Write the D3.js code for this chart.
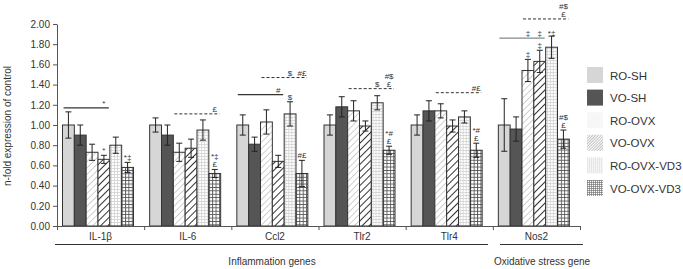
<!DOCTYPE html>
<html>
<head>
<meta charset="utf-8">
<title>n-fold expression</title>
<script src="https://d3js.org/d3.v7.min.js"></script>
<style>
  body { margin: 0; background: #fff; }
  text { font-family: "Liberation Sans", Arial, sans-serif; fill: #333; }
</style>
</head>
<body>
<div id="chart"></div>
<script>
// genes along the x axis
var genes = ["IL-1\u03b2", "IL-6", "Ccl2", "Tlr2", "Tlr4", "Nos2"];
var series = ["RO-SH", "VO-SH", "RO-OVX", "VO-OVX", "RO-OVX-VD3", "VO-OVX-VD3"];

// mean values per series (one per gene)
var roSh      = [1.00, 1.00, 1.00, 1.00, 1.00, 1.00];
var voSh      = [0.90, 0.90, 0.81, 1.18, 1.14, 0.96];
var roOvx     = [0.73, 0.73, 1.03, 1.14, 1.14, 1.54];
var voOvx     = [0.66, 0.77, 0.64, 0.99, 0.99, 1.63];
var roOvxVd3  = [0.80, 0.95, 1.11, 1.22, 1.08, 1.77];
var voOvxVd3  = [0.58, 0.52, 0.52, 0.75, 0.75, 0.86];

// error bar half-lengths
var roShErr     = [0.13, 0.07, 0.10, 0.10, 0.10, 0.26];
var voShErr     = [0.10, 0.10, 0.07, 0.10, 0.10, 0.12];
var roOvxErr    = [0.08, 0.09, 0.12, 0.10, 0.07, 0.11];
var voOvxErr    = [0.04, 0.09, 0.06, 0.05, 0.06, 0.11];
var roOvxVd3Err = [0.08, 0.10, 0.12, 0.07, 0.06, 0.11];
var voOvxVd3Err = [0.05, 0.04, 0.13, 0.04, 0.07, 0.09];

var means = [roSh, voSh, roOvx, voOvx, roOvxVd3, voOvxVd3];
var errs  = [roShErr, voShErr, roOvxErr, voOvxErr, roOvxVd3Err, voOvxVd3Err];

var yTicks = [0, 0.2, 0.4, 0.6, 0.8, 1.0, 1.2, 1.4, 1.6, 1.8, 2.0];

// significance markers directly above a bar: [gene, series, lines]
var barMarks = [
  [0, 3, ["*"]], [0, 5, ["*\u2021"]],
  [1, 5, ["*\u2021", "\u00a3"]],
  [2, 4, ["$"]], [2, 5, ["#\u00a3"]],
  [3, 5, ["*#", "\u00a3"]],
  [4, 5, ["*#", "\u00a3"]],
  [5, 2, ["\u2021"]], [5, 3, ["\u2021"]], [5, 5, ["#$", "\u00a3"]]
];

// comparison lines: gene, from bar, to bar, level, dashed, labels [bar, lines]
var brackets = [
  {g: 0, from: 0, to: 3, v: 1.17, dashed: false, labels: [[3, ["*"]]]},
  {g: 1, from: 2, to: 5, v: 1.11, dashed: true,  labels: [[5, ["\u00a3"]]]},
  {g: 2, from: 0, to: 3, v: 1.30, dashed: false, labels: [[3, ["#"]]]},
  {g: 2, from: 2, to: 5, v: 1.47, dashed: true,  labels: [[4, ["$"]], [5, ["#\u00a3"]]]},
  {g: 3, from: 2, to: 5, v: 1.36, dashed: true,  labels: [[4, ["$"]], [5, ["#$", "\u00a3"]]]},
  {g: 4, from: 2, to: 5, v: 1.32, dashed: true,  labels: [[5, ["#\u00a3"]]]},
  {g: 5, from: 0, to: 3, v: 1.86, dashed: false, labels: [[2, ["\u2021"]], [3, ["\u2021"]], [4, ["*\u2021"]]]},
  {g: 5, from: 2, to: 5, v: 2.05, dashed: true,  labels: [[5, ["#$", "\u00a3"]]]}
];

var width = 683, height = 269;

var svg = d3.select("#chart").append("svg")
  .attr("width", width).attr("height", height);

// fill patterns
var defs = svg.append("defs");
function hatch(id, size, stroke, sw) {
  var p = defs.append("pattern").attr("id", id)
    .attr("patternUnits", "userSpaceOnUse").attr("width", size).attr("height", size)
    .attr("patternTransform", "rotate(45)");
  p.append("rect").attr("width", size).attr("height", size).attr("fill", "#fff");
  p.append("line").attr("x1", 0).attr("y1", 0).attr("x2", 0).attr("y2", size)
    .attr("stroke", stroke).attr("stroke-width", sw);
}
function grid(id, size, stroke, sw) {
  var p = defs.append("pattern").attr("id", id)
    .attr("patternUnits", "userSpaceOnUse").attr("width", size).attr("height", size);
  p.append("rect").attr("width", size).attr("height", size).attr("fill", "#fff");
  p.append("path").attr("d", "M0,0.5H" + size + "M0.5,0V" + size)
    .attr("stroke", stroke).attr("stroke-width", sw).attr("fill", "none");
}
hatch("roOvx", 4.5, "#c4c4c4", 1.6);
hatch("voOvx", 5, "#333", 2);
grid("roVd3", 3, "#d0d0d0", 0.8);
grid("voVd3", 3.4, "#555", 0.9);
// finer versions for the legend swatches
hatch("roOvxL", 2, "#d8d8d8", 0.8);
hatch("voOvxL", 2, "#777", 0.9);
grid("roVd3L", 2, "#dcdcdc", 0.6);
grid("voVd3L", 2, "#777", 0.7);

var fills = ["#d6d6d6", "#555555", "url(#roOvx)", "url(#voOvx)", "url(#roVd3)", "url(#voVd3)"];
var legendFills = ["#d6d6d6", "#555555", "url(#roOvxL)", "url(#voOvxL)", "url(#roVd3L)", "url(#voVd3L)"];

// scales
var x0 = d3.scaleBand().domain(genes).range([57, 580]);
var x1 = d3.scaleBand().domain(d3.range(series.length)).range([5.5, 76.5]);
var y = d3.scaleLinear().domain([0, 2]).range([226, 24]);

// y axis
var yAxis = svg.append("g")
  .attr("transform", "translate(57,0)")
  .call(d3.axisLeft(y).tickValues(yTicks).tickFormat(d3.format(".2f")).tickSize(4).tickSizeOuter(0));
yAxis.select(".domain").attr("stroke", "#555");
yAxis.selectAll(".tick line").attr("stroke", "#555");
yAxis.selectAll("text").style("font-size", "10px").attr("fill", "#333").attr("x", -7);

svg.append("text")
  .attr("transform", "translate(11,126) rotate(-90)")
  .attr("text-anchor", "middle")
  .style("font-size", "10px")
  .text("n-fold expression of control");

// bars
var groupsG = svg.selectAll(".grp").data(genes).enter().append("g")
  .attr("class", "grp")
  .attr("transform", function(d) { return "translate(" + x0(d) + ",0)"; });

groupsG.each(function(gene, gi) {
  var g = d3.select(this);
  var rows = series.map(function(s, si) {
    return {si: si, v: means[si][gi], e: errs[si][gi]};
  });
  g.selectAll("rect").data(rows).enter().append("rect")
    .attr("x", function(d) { return x1(d.si); })
    .attr("y", function(d) { return y(d.v); })
    .attr("width", x1.bandwidth())
    .attr("height", function(d) { return y(0) - y(d.v); })
    .attr("fill", function(d) { return fills[d.si]; })
    .attr("stroke", "#333").attr("stroke-width", 1);

  var eb = g.selectAll(".err").data(rows).enter().append("g").attr("class", "err")
    .attr("stroke", "#222").attr("stroke-width", 1);
  eb.append("line")
    .attr("x1", function(d) { return x1(d.si) + x1.bandwidth() / 2; })
    .attr("x2", function(d) { return x1(d.si) + x1.bandwidth() / 2; })
    .attr("y1", function(d) { return y(d.v + d.e); })
    .attr("y2", function(d) { return y(d.v - d.e); });
  [1, -1].forEach(function(sgn) {
    eb.append("line")
      .attr("x1", function(d) { return x1(d.si) + x1.bandwidth() / 2 - 3; })
      .attr("x2", function(d) { return x1(d.si) + x1.bandwidth() / 2 + 3; })
      .attr("y1", function(d) { return y(d.v + sgn * d.e); })
      .attr("y2", function(d) { return y(d.v + sgn * d.e); });
  });
});

// x axis with ticks at group boundaries
var xb = d3.scaleLinear().domain([0, genes.length]).range([57, 580]);
var xAxis = svg.append("g")
  .attr("transform", "translate(0," + y(0) + ")")
  .call(d3.axisBottom(xb).tickValues(d3.range(genes.length + 1)).tickFormat("").tickSize(4).tickSizeOuter(0));
xAxis.select(".domain").attr("stroke", "#555");
xAxis.selectAll(".tick line").attr("stroke", "#555");

svg.selectAll(".glabel").data(genes).enter().append("text")
  .attr("class", "glabel")
  .attr("x", function(d) { return x0(d) + x0.bandwidth() / 2; })
  .attr("y", 240)
  .attr("text-anchor", "middle")
  .style("font-size", "10px")
  .text(function(d) { return d; });

// category underlines
svg.append("line").attr("x1", 55).attr("x2", 488).attr("y1", 244.5).attr("y2", 244.5)
  .attr("stroke", "#333");
svg.append("line").attr("x1", 500).attr("x2", 583).attr("y1", 244.5).attr("y2", 244.5)
  .attr("stroke", "#333");
svg.append("text").attr("x", 272).attr("y", 265).attr("text-anchor", "middle")
  .style("font-size", "10px").text("Inflammation genes");
svg.append("text").attr("x", 542).attr("y", 265).attr("text-anchor", "middle")
  .style("font-size", "10px").text("Oxidative stress gene");

// significance marks
function barCx(gi, si) { return x0(genes[gi]) + x1(si) + x1.bandwidth() / 2; }

function stackText(cx, bottomY, lines) {
  lines.slice().reverse().forEach(function(t, i) {
    svg.append("text")
      .attr("x", cx).attr("y", bottomY - i * 8)
      .attr("text-anchor", "middle")
      .style("font-size", "8px").attr("fill", "#444")
      .text(t);
  });
}

barMarks.forEach(function(m) {
  var gi = m[0], si = m[1];
  var top = y(means[si][gi] + errs[si][gi]);
  stackText(barCx(gi, si), top - 2, m[2]);
});

brackets.forEach(function(b) {
  var gx = x0(genes[b.g]);
  var ly = y(b.v);
  svg.append("line")
    .attr("x1", gx + x1(b.from) + 1)
    .attr("x2", gx + x1(b.to) + x1.bandwidth() - 1)
    .attr("y1", ly).attr("y2", ly)
    .attr("stroke", b.g === 5 && !b.dashed ? "#888" : "#333")
    .attr("stroke-width", b.dashed ? 1 : 1.2)
    .attr("stroke-dasharray", b.dashed ? "3,2" : null);
  b.labels.forEach(function(l) {
    stackText(barCx(b.g, l[0]), ly - 2, l[1]);
  });
});

// legend
var legend = svg.selectAll(".leg").data(series).enter().append("g")
  .attr("class", "leg")
  .attr("transform", function(d, i) { return "translate(587," + (67 + i * 22.6) + ")"; });
legend.append("rect").attr("width", 16).attr("height", 16)
  .attr("fill", function(d, i) { return legendFills[i]; });
legend.append("text").attr("x", 23).attr("y", 12.5)
  .style("font-size", "11.5px")
  .text(function(d) { return d; });
</script>
</body>
</html>
